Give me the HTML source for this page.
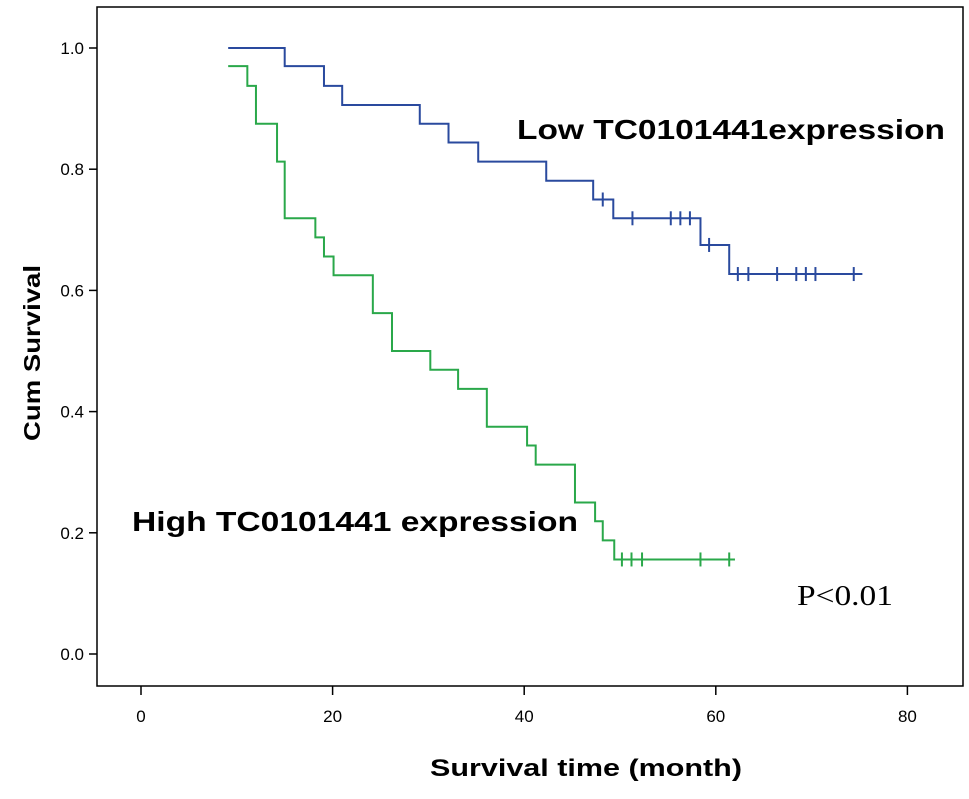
<!DOCTYPE html>
<html><head><meta charset="utf-8"><style>
body{margin:0;background:#fff;}
svg text{font-family:"Liberation Sans",Arial,sans-serif;}
</style></head><body>
<svg id="chart" width="969" height="794" xmlns="http://www.w3.org/2000/svg">
<rect x="0" y="0" width="969" height="794" fill="#fff"/>
<rect x="97" y="7" width="866" height="679" fill="none" stroke="#000" stroke-width="1.5"/>
<g id="axes"></g>
<g id="series"></g>
<text x="517" y="139" font-size="28" font-weight="bold" textLength="428" lengthAdjust="spacingAndGlyphs">Low TC0101441expression</text>
<text x="132" y="531" font-size="28" font-weight="bold" textLength="446" lengthAdjust="spacingAndGlyphs">High TC0101441 expression</text>
<text x="797" y="605" font-size="28" textLength="96" lengthAdjust="spacingAndGlyphs" style="font-family:'Liberation Serif',serif">P&lt;0.01</text>
<text x="430" y="776" font-size="24" font-weight="bold" textLength="312" lengthAdjust="spacingAndGlyphs">Survival time (month)</text>
<text transform="translate(40,353) rotate(-90)" font-size="23" font-weight="bold" text-anchor="middle" textLength="176" lengthAdjust="spacingAndGlyphs">Cum Survival</text>
</svg>
<script>
const xTicks=[0,20,40,60,80];
const yTicks=[0.0,0.2,0.4,0.6,0.8,1.0];
const lowTimes=[9.1,15,19.1,21,29.1,32.1,35.2,42.3,47.2,49.3,58.4,61.4,75.3];
const lowSurv=[1.0,0.97,0.9375,0.906,0.875,0.844,0.8125,0.781,0.75,0.719,0.675,0.627,0.627];
const lowCensorT=[48.2,51.3,55.3,56.3,57.3,59.3,62.3,63.4,66.4,68.4,69.4,70.4,74.4];
const highTimes=[9.1,11.1,12,14.2,15,18.2,19.1,20.1,24.2,26.2,30.2,33.1,36.1,40.3,41.2,45.3,47.4,48.2,49.4,62];
const highSurv=[0.97,0.9375,0.875,0.8125,0.719,0.6875,0.656,0.625,0.5625,0.5,0.469,0.4375,0.375,0.344,0.3125,0.25,0.219,0.1875,0.156,0.156];
const highCensorT=[50.2,51.2,52.3,58.4,61.4];
const X=t=>141+t*9.58, Y=s=>654-s*606;
const NS="http://www.w3.org/2000/svg";
function mk(tag,attrs,parent){const e=document.createElementNS(NS,tag);for(const k in attrs)e.setAttribute(k,attrs[k]);parent.appendChild(e);return e;}
const ax=document.getElementById('axes');
xTicks.forEach(v=>{
  const l=mk('line',{x1:X(v),x2:X(v),y1:686,y2:695,stroke:'#000','stroke-width':1.5},ax);
  
  
  const t=mk('text',{x:X(v),y:722,'font-size':17,'text-anchor':'middle'},ax);t.textContent=v;
  
  
});
yTicks.forEach(v=>{
  const l=mk('line',{x1:89,x2:97,y1:Y(v),y2:Y(v),stroke:'#000','stroke-width':1.5},ax);
  
  
  const t=mk('text',{x:84,y:Y(v)+6,'font-size':17,'text-anchor':'end'},ax);t.textContent=v.toFixed(1);
  
  
});
const sg=document.getElementById('series');
function survAt(times,surv,t){let s=surv[0];for(let i=0;i<times.length;i++){if(times[i]<=t)s=surv[i];}return s;}
function drawSeries(times,surv,cens,color,name){
  let d='M'+X(times[0])+','+Y(surv[0]);
  for(let i=1;i<times.length;i++){d+=' H'+X(times[i])+' V'+Y(surv[i]);}
  const p=mk('path',{d:d,fill:'none',stroke:color,'stroke-width':2},sg);
  
  
  cens.forEach(c=>{
    const s=survAt(times,surv,c);
    const l=mk('line',{x1:X(c),x2:X(c),y1:Y(s)-7,y2:Y(s)+7,stroke:color,'stroke-width':2},sg);
    
    
  });
}
drawSeries(lowTimes,lowSurv,lowCensorT,'#2a4a9e','low-expression');
drawSeries(highTimes,highSurv,highCensorT,'#2aa84a','high-expression');
</script>
</body></html>
